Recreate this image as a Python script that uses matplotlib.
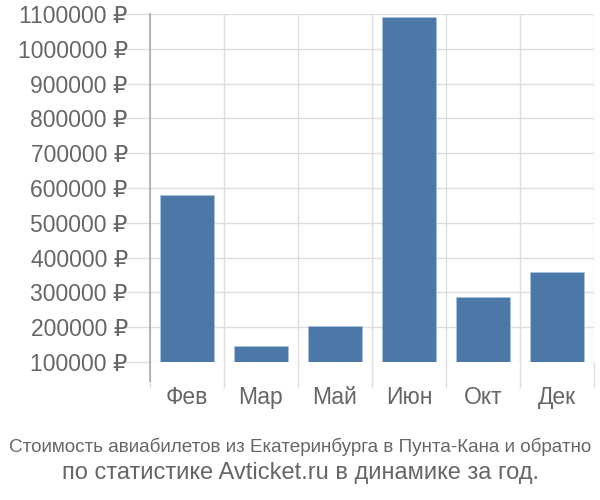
import matplotlib
matplotlib.use("Agg")
import matplotlib.pyplot as plt
import numpy as np

months = ["Фев", "Мар", "Май", "Июн", "Окт", "Дек"]
prices = [580000, 146000, 203000, 1091000, 287000, 359000]
yticks = [100000, 200000, 300000, 400000, 500000, 600000, 700000, 800000, 900000, 1000000, 1100000]

base = ["Liberation Sans", "DejaVu Sans"]

fig = plt.figure(figsize=(6, 5), dpi=100)
ax = fig.add_axes([0.25, 0.276, 0.74, 0.696])
x = np.arange(len(months))
ax.bar(x, prices, width=0.72, color="#4c78a8", edgecolor="#a9c3e0", linewidth=0.6, zorder=3)
ax.set_ylim(100000, 1100000)
ax.set_xlim(-0.5, len(months) - 0.5)

ax.set_yticks(yticks)
ax.set_yticklabels([f"{v} ₽" for v in yticks], fontsize=16.5, color="#666666", family=base)
ax.tick_params(axis="y", length=20, color="#dddddd", width=1, pad=-4)

ax.set_xticks(np.arange(len(months) + 1) - 0.5)
ax.set_xticklabels([""] * (len(months) + 1))
ax.set_xticks(x, minor=True)
ax.set_xticklabels(months, minor=True, fontsize=16.5, color="#666666", family=base)
ax.tick_params(axis="x", which="major", length=19, color="#dddddd", width=1)
ax.tick_params(axis="x", which="minor", length=0, pad=17)

ax.grid(True, which="major", color="#dddddd", linewidth=1, zorder=0)
for s in ["top", "right", "bottom"]:
    ax.spines[s].set_visible(False)
ax.spines["left"].set_color("#aaaaaa")
ax.spines["left"].set_linewidth(1.2)
ax.spines["left"].set_bounds(100000, 1100000)
ax.plot([-0.5, -0.5], [100000, 100000 - 19 / 348 * 1000000], color="#aaaaaa", lw=1.2,
        clip_on=False, zorder=4)

fig.text(0.5, 0.106, "Стоимость авиабилетов из Екатеринбурга в Пунта-Кана и обратно",
         ha="center", va="center", fontsize=13.6, color="#666666", family=base)
fig.text(0.5, 0.054, "по статистике Avticket.ru в динамике за год.",
         ha="center", va="center", fontsize=17, color="#666666", family=base)

fig.savefig("out.png", dpi=100, facecolor="white")
